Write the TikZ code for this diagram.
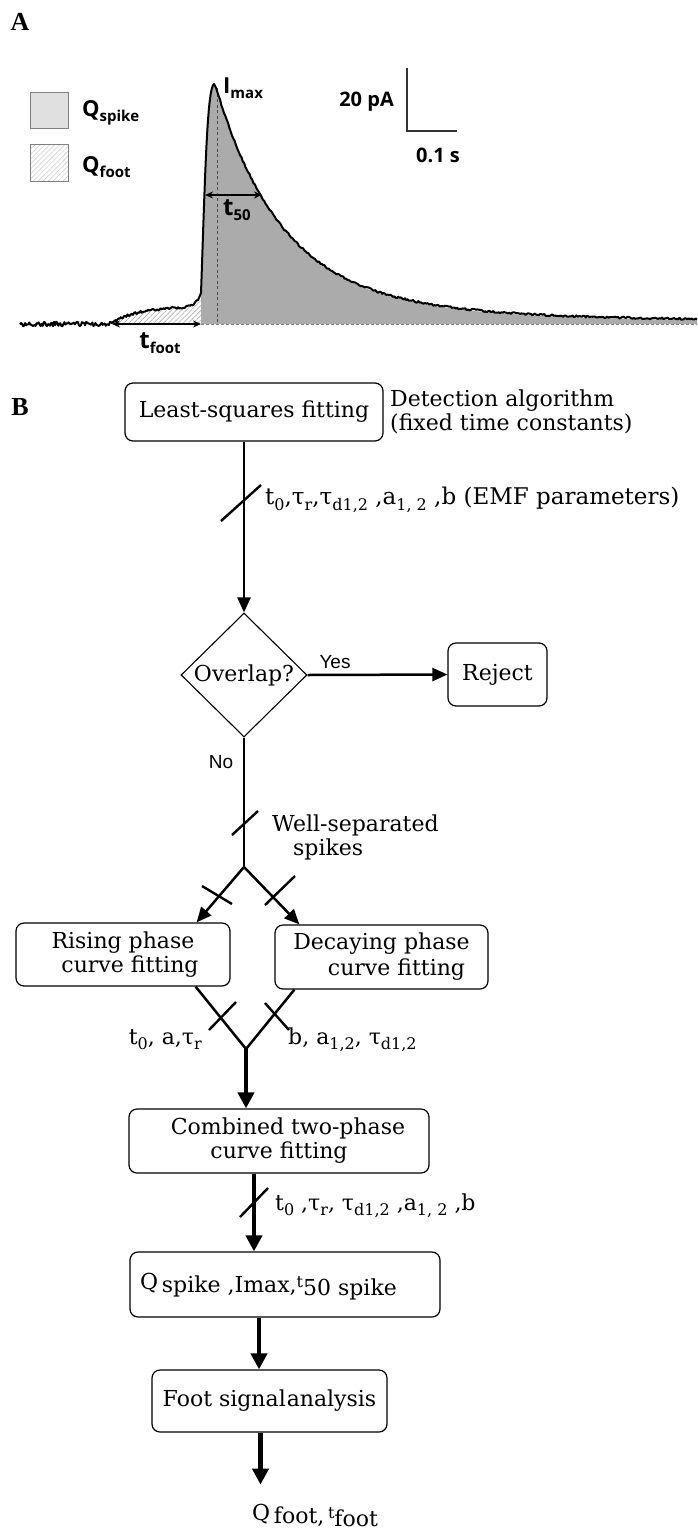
\documentclass[tikz,border=0pt]{standalone}
\usepackage{fontspec}
\setmainfont{DejaVu Serif}
\newfontfamily\osans{Open Sans}
\newfontfamily\lsans{Liberation Sans}
\newfontfamily\tnr{Liberation Serif}
\usetikzlibrary{arrows.meta,patterns.meta,shapes.geometric,calc}
\newcommand\sbs[1]{\raisebox{-0.45ex}{\fontsize{16}{16}\selectfont #1}}
\newcommand\ssub[1]{\raisebox{-4.5pt}{\fontsize{15}{15}\selectfont #1}}
\begin{document}
\begin{tikzpicture}[x=1pt,y=-1pt,
  declare function={
    ampl(\x)=166*exp(-(\x-215)/60)+66*exp(-(\x-215)/110)+7*exp(-(\x-215)/600);
    footc(\x)=16*(1-exp(-(\x-112)/25))+15*exp((\x-201)/5);
  },
  box/.style={draw, rounded corners=8pt, line width=1.2pt, align=center, inner sep=0pt,
    font=\fontsize{22}{24}\selectfont},
  arr/.style={line width=2.5pt, -{Triangle[width=13pt,length=15pt]}},
  tarr/.style={line width=4.2pt, -{Triangle[width=16pt,length=16pt]}},
  tick/.style={line width=2.4pt},
  lbl/.style={inner sep=0pt, font=\fontsize{22}{24}\selectfont},
  alab/.style={inner sep=0pt, font=\osans\fontsize{22}{22}\selectfont},
  trace/.style={line width=2pt, line join=round},
  dbl/.style={line width=1.5pt, {Stealth[length=8pt,width=7pt]}-{Stealth[length=8pt,width=7pt]}}
]
\useasboundingbox (0,0) rectangle (697,1531);
\definecolor{spikegray}{gray}{0.67}
\definecolor{leggray}{gray}{0.88}

% ---------- Panel A ----------
\node[font=\tnr\bfseries\fontsize{26}{26}\selectfont, inner sep=0pt] (labA) at (20,22) {A};

% legend
\node[draw=gray, fill=leggray, line width=0.9pt, minimum width=38pt, minimum height=36pt, inner sep=0pt] (legS) at (49,110) {};
\node[draw=gray, line width=0.9pt, minimum width=38pt, minimum height=37pt, inner sep=0pt,
  pattern={Lines[angle=45,distance=3.5pt,line width=0.5pt]}, pattern color=gray!45] (legF) at (49,163) {};
\node[alab, anchor=west] (legSt) at (82,113) {\bfseries Q\ssub{spike}};
\node[alab, anchor=west] (legFt) at (82,167) {\bfseries Q\ssub{foot}};

% foot hatch
\fill[pattern={Lines[angle=45,distance=3.5pt,line width=0.6pt]}, pattern color=gray!65]
  (112,324) -- plot[domain=112:201,samples=60] (\x,{324-footc(\x)}) -- (201,324) -- cycle;
% spike fill
\fill[spikegray] (201,324) -- (201,293) .. controls (205,180) and (207,88) .. (214,84)
  -- plot[domain=215:697,samples=200] (\x,{324-ampl(\x)}) -- (697,324) -- cycle;
% dashed lines
\draw[gray, dash pattern=on 3pt off 2pt, line width=0.9pt] (201,324) -- (697,324);
\draw[gray!60!black, dash pattern=on 3pt off 2.5pt, line width=1pt] (217,88) -- (217,324);
% trace
\pgfmathsetseed{7}
\draw[trace] plot[domain=20:112,samples=90] (\x,{324+2.2*rand})
  -- plot[domain=112:199,samples=80] (\x,{324-footc(\x)-2.2*abs(rand)})
  -- (201,293) .. controls (205,180) and (207,88) .. (214,84)
  -- plot[domain=216:697,samples=360] (\x,{324-ampl(\x)-2*abs(rand)});
% double arrows
\coordinate (tf1) at (112,324); \coordinate (tf2) at (201,324);
\draw[dbl] (tf1) -- (tf2);
\coordinate (th1) at (205,195); \coordinate (th2) at (262,195);
\draw[dbl] (th1) -- (th2);
% labels
\node[alab, font=\osans\bfseries\fontsize{24}{24}\selectfont] (tfoot) at (160,343) {t\ssub{foot}};
\node[alab, font=\osans\bfseries\fontsize{24}{24}\selectfont] (tfifty) at (237,210) {t\ssub{50}};
\node[alab, anchor=west, font=\osans\bfseries\fontsize{22}{22}\selectfont] (imax) at (223,88) {I\ssub{max}};
% scale bar
\coordinate (sb1) at (407,68); \coordinate (sb2) at (407,131); \coordinate (sb3) at (457,131);
\draw[line width=1.3pt, black!80] (sb1) -- (sb2) -- (sb3);
\node[alab, anchor=east, font=\osans\bfseries\fontsize{20}{20}\selectfont] (pa) at (394,102) {20 pA};
\node[alab, anchor=west, font=\osans\bfseries\fontsize{20}{20}\selectfont] (sec) at (416,155) {0.1 s};

% ---------- Panel B ----------
\node[font=\tnr\bfseries\fontsize{26}{26}\selectfont, inner sep=0pt] (labB) at (20,407) {B};

\node[box, minimum width=258pt, minimum height=58pt] (ls) at (254,412) {Least-squares fitting};
\node[lbl, anchor=west, align=left] (det) at (390,412) {Detection algorithm\\(fixed time constants)};

\node[draw, diamond, aspect=1, line width=1.1pt, minimum width=126pt, minimum height=124pt, inner sep=0pt,
  font=\fontsize{22}{24}\selectfont] (dia) at (244,675) {Overlap?};
\node[box, minimum width=99pt, minimum height=63pt] (rej) at (497.5,674.5) {Reject};

\node[box, minimum width=214pt, minimum height=63pt] (rise) at (123,954.5) {Rising phase\\\hspace*{14pt}curve fitting};
\node[box, minimum width=213pt, minimum height=64pt] (dec) at (381.5,957) {Decaying phase\\[2pt]\hspace*{30pt}curve fitting};

\node[box, minimum width=300pt, minimum height=64pt] (comb) at (279,1141) {\hspace*{18pt}Combined two-phase\\curve fitting};
\node[box, minimum width=310pt, minimum height=65pt] (qbox) at (285,1284.5) {};
\node[lbl, anchor=west] (qtext) at (140,1287) {\raisebox{3pt}{Q}\,spike ,Imax,\raisebox{5pt}{\fontsize{16}{16}\selectfont t}\raisebox{-3pt}{50 spike}};
\node[box, minimum width=235pt, minimum height=62pt] (foot) at (269.5,1401) {Foot signal\hspace{1pt}analysis};
\node[lbl, anchor=west] (out) at (252,1515) {\raisebox{3pt}{Q}\,foot,\,\raisebox{5pt}{\fontsize{16}{16}\selectfont t}\raisebox{-3pt}{foot}};

% connectors
\draw[arr] (ls.south -| dia.north) -- (dia.north);
\draw[arr] (dia.east) -- (rej.west);
\node[inner sep=0pt, font=\lsans\fontsize{19}{19}\selectfont] (yes) at (335,662) {Yes};
\node[inner sep=0pt, font=\lsans\fontsize{19}{19}\selectfont] (no) at (221,762) {No};

\coordinate (fork) at (244,867);
\draw[line width=2.5pt] (dia.south) -- (fork);
\draw[arr] (fork) -- ([xshift=-34pt]rise.north east);
\draw[arr] (fork) -- ([xshift=25pt]dec.north west);
\node[lbl, anchor=west, align=left] (well) at (272,837) {Well-separated\\\hspace*{21pt}spikes};

\coordinate (merge) at (246,1049);
\draw[line width=2.5pt] ([xshift=-35pt]rise.south east) -- (merge);
\draw[line width=2.5pt] ([xshift=20pt]dec.south west) -- (merge);
\draw[tarr] (merge) -- (merge |- comb.north);
\draw[tarr] ([xshift=-25pt]comb.south) -- ([xshift=-25pt]comb.south |- qbox.north);
\draw[tarr] ([xshift=-26pt]qbox.south) -- ([xshift=-26pt]qbox.south |- foot.north);
\draw[tarr] ([xshift=-9pt]foot.south) -- ([xshift=-9pt,yshift=-52pt]foot.south);

% slashes and ticks
\draw[tick] (221,521) -- (261,485);
\draw[tick] (232,835) -- (258,811);
\draw[tick] (240,1217) -- (268,1188);
\draw[tick] (202,886) -- (232,904);
\draw[tick] (265,905) -- (295,876);
\draw[tick] (209,1030) -- (236,1002);
\draw[tick] (265,1003) -- (289,1030);

% parameter labels
\node[lbl, anchor=west, font=\fontsize{23}{24}\selectfont] (p1) at (265,500) {t\sbs{0},τ\sbs{r},τ\sbs{d1,2} ,a\sbs{1, 2} ,b (EMF parameters)};
\node[lbl, anchor=east] (p2) at (202,1040) {t\sbs{0}, a,τ\sbs{r}};
\node[lbl, anchor=west] (p3) at (288,1040) {b, a\sbs{1,2}, τ\sbs{d1,2}};
\node[lbl, anchor=west] (p4) at (275,1206) {t\sbs{0} ,τ\sbs{r}, τ\sbs{d1,2} ,a\sbs{1, 2} ,b};
\end{tikzpicture}
\end{document}
